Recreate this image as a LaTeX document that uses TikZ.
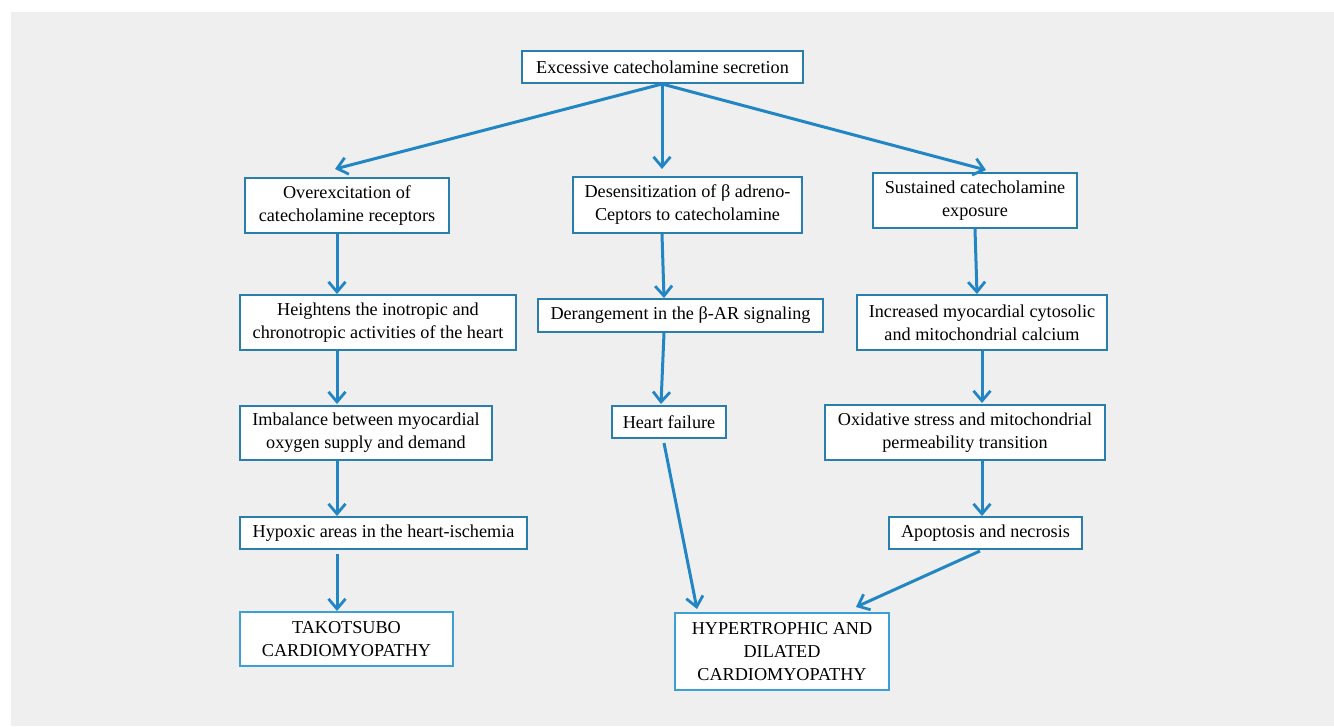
\documentclass[tikz,border=0pt]{standalone}
\usepackage{fontspec}
\setmainfont{Liberation Serif}
\usetikzlibrary{arrows.meta}
\definecolor{bg}{HTML}{EFEFEF}
\definecolor{boxline}{HTML}{2A7EAB}
\definecolor{boxlight}{HTML}{3C9FD6}
\definecolor{arr}{HTML}{2286C4}
\begin{document}
\begin{tikzpicture}[x=1pt,y=-1pt,
  box/.style={draw=boxline,line width=2.2pt,fill=white,inner sep=0pt,align=center,
    font=\fontsize{18.2}{23}\selectfont,text=black},
  endbox/.style={box,draw=boxlight},
  conn/.style={draw=arr,line width=3pt,-{Straight Barb[length=10pt,width=17pt,line width=2.8pt]}}]
\useasboundingbox (0,0) rectangle (1334,726);
\fill[bg] (11,12) rectangle (1334,726);
% boxes (centers and sizes in px)
\node[box,minimum width=281,minimum height=32] (top) at (662.5,67) {Excessive catecholamine secretion};
\node[box,minimum width=204,minimum height=55] (over) at (347,205.5) {Overexcitation of\\catecholamine receptors};
\node[box,minimum width=229,minimum height=56] (desens) at (687.5,205) {Desensitization of β adreno-\\Ceptors to catecholamine};
\node[box,minimum width=204,minimum height=55] (sust) at (975,200.5) {Sustained catecholamine\\exposure};
\node[box,minimum width=276,minimum height=55] (height) at (378,322.5) {Heightens the inotropic and\\chronotropic activities of the heart};
\node[box,minimum width=285,minimum height=33] (derang) at (680.5,315.5) {Derangement in the β-AR signaling};
\node[box,minimum width=250,minimum height=55] (incr) at (982,322.5) {Increased myocardial cytosolic\\and mitochondrial calcium};
\node[box,minimum width=252,minimum height=54] (imbal) at (366,433) {Imbalance between myocardial\\oxygen supply and demand};
\node[box,minimum width=114,minimum height=32] (hf) at (669,422) {Heart failure};
\node[box,minimum width=280,minimum height=55] (oxid) at (965,432.5) {Oxidative stress and mitochondrial\\permeability transition};
\node[box,minimum width=287,minimum height=32] (hypox) at (383.5,533) {Hypoxic areas in the heart-ischemia};
\node[box,minimum width=193,minimum height=32] (apop) at (985.5,533) {Apoptosis and necrosis};
\node[endbox,minimum width=213,minimum height=54] (tako) at (346.5,639) {TAKOTSUBO\\CARDIOMYOPATHY};
\node[endbox,minimum width=214,minimum height=77] (hyper) at (782,651.5) {HYPERTROPHIC AND\\DILATED\\CARDIOMYOPATHY};
% connectors
\coordinate (ts) at (662,84);
\draw[conn] (ts) -- (335,169);
\draw[conn] (ts) -- (662,169);
\draw[conn] (ts) -- (986,170);
\draw[conn] (337,234) -- (337,294);
\draw[conn] (662,234) -- (664,298);
\draw[conn] (975,229) -- (977,294);
\draw[conn] (337,351) -- (337,404);
\draw[conn] (664,333) -- (661,404);
\draw[conn] (982,351) -- (982,403);
\draw[conn] (337,461) -- (337,516);
\draw[conn] (982,461) -- (982,516);
\draw[conn] (337,554) -- (337,611);
\draw[conn] (664,443) -- (697,609);
\draw[conn] (980,551) -- (856,607);
\end{tikzpicture}
\end{document}
